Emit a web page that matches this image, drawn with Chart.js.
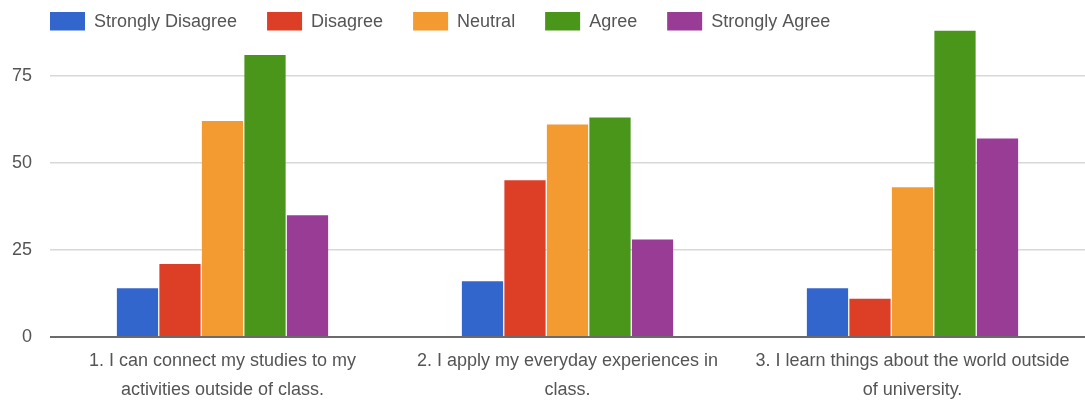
<!DOCTYPE html>
<html>
<head>
<meta charset="utf-8">
<title>Survey responses</title>
<script src="https://cdn.jsdelivr.net/npm/chart.js@4/dist/chart.umd.min.js"></script>
<style>
  html, body { margin: 0; padding: 0; background: #ffffff; }
  #wrap { position: relative; width: 1085px; height: 403px; overflow: hidden; }
</style>
</head>
<body>
<div id="wrap"><canvas id="chart"></canvas></div>
<script>
// Survey statements (x-axis categories, pre-wrapped onto two lines)
const statements = [
  ["1. I can connect my studies to my", "activities outside of class."],
  ["2. I apply my everyday experiences in", "class."],
  ["3. I learn things about the world outside", "of university."]
];

// Response counts per answer option, one value per statement
const stronglyDisagree = [14, 16, 14];
const disagree         = [21, 45, 11];
const neutral          = [62, 61, 43];
const agree            = [81, 63, 88];
const stronglyAgree    = [35, 28, 57];

// Answer option names and value-axis ticks
const optionNames = ["Strongly Disagree", "Disagree", "Neutral", "Agree", "Strongly Agree"];
const yTicks = [0, 25, 50, 75];
const yMax = 88;

const optionColors = ["#3366cc", "#dc3f26", "#f39a30", "#4a961b", "#993c95"];
const seriesValues = [stronglyDisagree, disagree, neutral, agree, stronglyAgree];

const textColor = "#555555";
const fontFamily = "'Liberation Sans', Arial, sans-serif";

const datasets = optionNames.map((name, i) => ({
  label: name,
  data: seriesValues[i],
  backgroundColor: optionColors[i],
  borderWidth: 0,
  categoryPercentage: 0.616,
  barPercentage: 0.97
}));

new Chart(document.getElementById("chart"), {
  type: "bar",
  data: { labels: statements, datasets: datasets },
  options: {
    responsive: true,
    maintainAspectRatio: false,
    animation: false,
    layout: { padding: { top: -18, left: 20, right: -3, bottom: -11 } },
    plugins: {
      tooltip: { enabled: false },
      legend: {
        position: "top",
        align: "start",
        maxHeight: 48.5,
        labels: {
          boxWidth: 35,
          boxHeight: 20,
          padding: 30,
          color: textColor,
          font: { family: fontFamily, size: 18 }
        }
      }
    },
    scales: {
      x: {
        grid: { display: false, drawTicks: false },
        border: { display: false },
        ticks: {
          color: textColor,
          padding: 10,
          maxRotation: 0,
          autoSkip: false,
          font: { family: fontFamily, size: 18, lineHeight: 1.58 }
        }
      },
      y: {
        min: 0,
        max: yMax,
        afterFit: (scale) => { scale.width = 30; },
        afterBuildTicks: (scale) => {
          scale.ticks = yTicks.map(v => ({ value: v }));
        },
        border: { display: false },
        grid: {
          drawTicks: false,
          color: (ctx) => (ctx.tick && ctx.tick.value === 0) ? "#6b6b6b" : "#d8d8d8",
          lineWidth: (ctx) => (ctx.tick && ctx.tick.value === 0) ? 2 : 1.5
        },
        ticks: {
          // labels sit right-aligned, ending 18px left of the plot area
          mirror: true,
          crossAlign: "far",
          padding: -38,
          color: textColor,
          font: { family: fontFamily, size: 18 }
        }
      }
    }
  }
});
</script>
</body>
</html>
